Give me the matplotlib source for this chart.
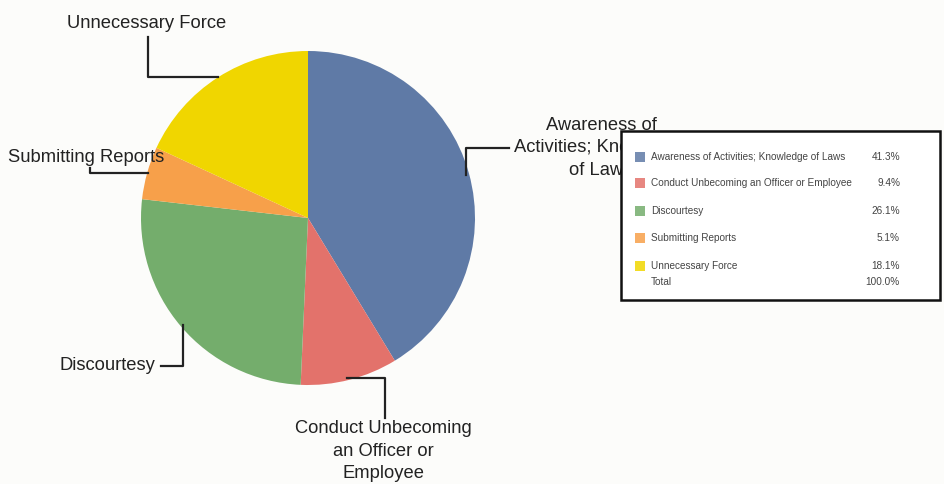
import matplotlib.pyplot as plt
from matplotlib.patches import Rectangle

plt.rcParams['font.family'] = ['Liberation Sans', 'DejaVu Sans']

categories = ["Awareness of Activities; Knowledge of Laws",
              "Conduct Unbecoming an Officer or Employee",
              "Discourtesy",
              "Submitting Reports",
              "Unnecessary Force"]
shares = [41.3, 9.4, 26.1, 5.1, 18.1]
pct_labels = ["41.3%", "9.4%", "26.1%", "5.1%", "18.1%"]
total_label = "100.0%"
colors = ["#5f7aa6", "#e3726b", "#74ad6c", "#f7a04a", "#f0d600"]

W, H = 944, 484
fig = plt.figure(figsize=(W / 100, H / 100), dpi=100, facecolor="#fcfcfa")

# pie in its own axes (center 308,218 px, radius 167 px)
cx, cy, r = 308, 218, 167
pax = fig.add_axes([(cx - r) / W, 1 - (cy + r) / H, 2 * r / W, 2 * r / H])
pax.pie(shares, colors=colors, startangle=90, counterclock=False,
        wedgeprops=dict(linewidth=0))
pax.set_xlim(-1, 1)
pax.set_ylim(-1, 1)
pax.axis("off")

# overlay in pixel coordinates for callouts and the legend box
ax = fig.add_axes([0, 0, 1, 1], zorder=5)
ax.set_xlim(0, W)
ax.set_ylim(H, 0)
ax.axis("off")
ax.patch.set_alpha(0)

lbl = dict(fontsize=13.2, color="#222222")
lw = 1.6
# Unnecessary Force
ax.text(147, 24, "Unnecessary Force", ha="center", va="center", **lbl)
ax.plot([148, 148, 218], [37, 77, 77], color="#222222", lw=lw)
# Submitting Reports
ax.text(8, 158, "Submitting Reports", ha="left", va="center", **lbl)
ax.plot([90, 90, 148], [168, 173, 173], color="#222222", lw=lw)
# Discourtesy
ax.text(155, 366, "Discourtesy", ha="right", va="center", **lbl)
ax.plot([161, 183, 183], [366, 366, 325], color="#222222", lw=lw)
# Conduct Unbecoming
ax.text(383, 451, "Conduct Unbecoming\nan Officer or\nEmployee", ha="center",
        va="center", linespacing=1.45, **lbl)
ax.plot([347, 385, 385], [378, 378, 418], color="#222222", lw=lw)
# Awareness (partly hidden by the legend box, as in the original)
ax.text(601, 148, "Awareness of\nActivities; Knowledge\nof Laws", ha="center",
        va="center", linespacing=1.45, **lbl)
ax.plot([466, 466, 509], [175, 148, 148], color="#222222", lw=lw)

# legend box
ax.add_patch(Rectangle((621, 131), 319, 169, facecolor="white",
                       edgecolor="#111111", lw=1.8, zorder=10))
row_y = [157, 183, 211, 238, 266]
leg = dict(fontsize=7.2, color="#444444", zorder=11, va="center")
for y, name, pct, col in zip(row_y, categories, pct_labels, colors):
    ax.add_patch(Rectangle((635, y - 5), 10, 10, facecolor=col,
                           edgecolor="none", alpha=0.85, zorder=11))
    ax.text(651, y, name, ha="left", **leg)
    ax.text(900, y, pct, ha="right", **leg)
ax.text(651, 282, "Total", ha="left", **leg)
ax.text(900, 282, total_label, ha="right", **leg)

fig.savefig("out.png", dpi=100, facecolor=fig.get_facecolor())
